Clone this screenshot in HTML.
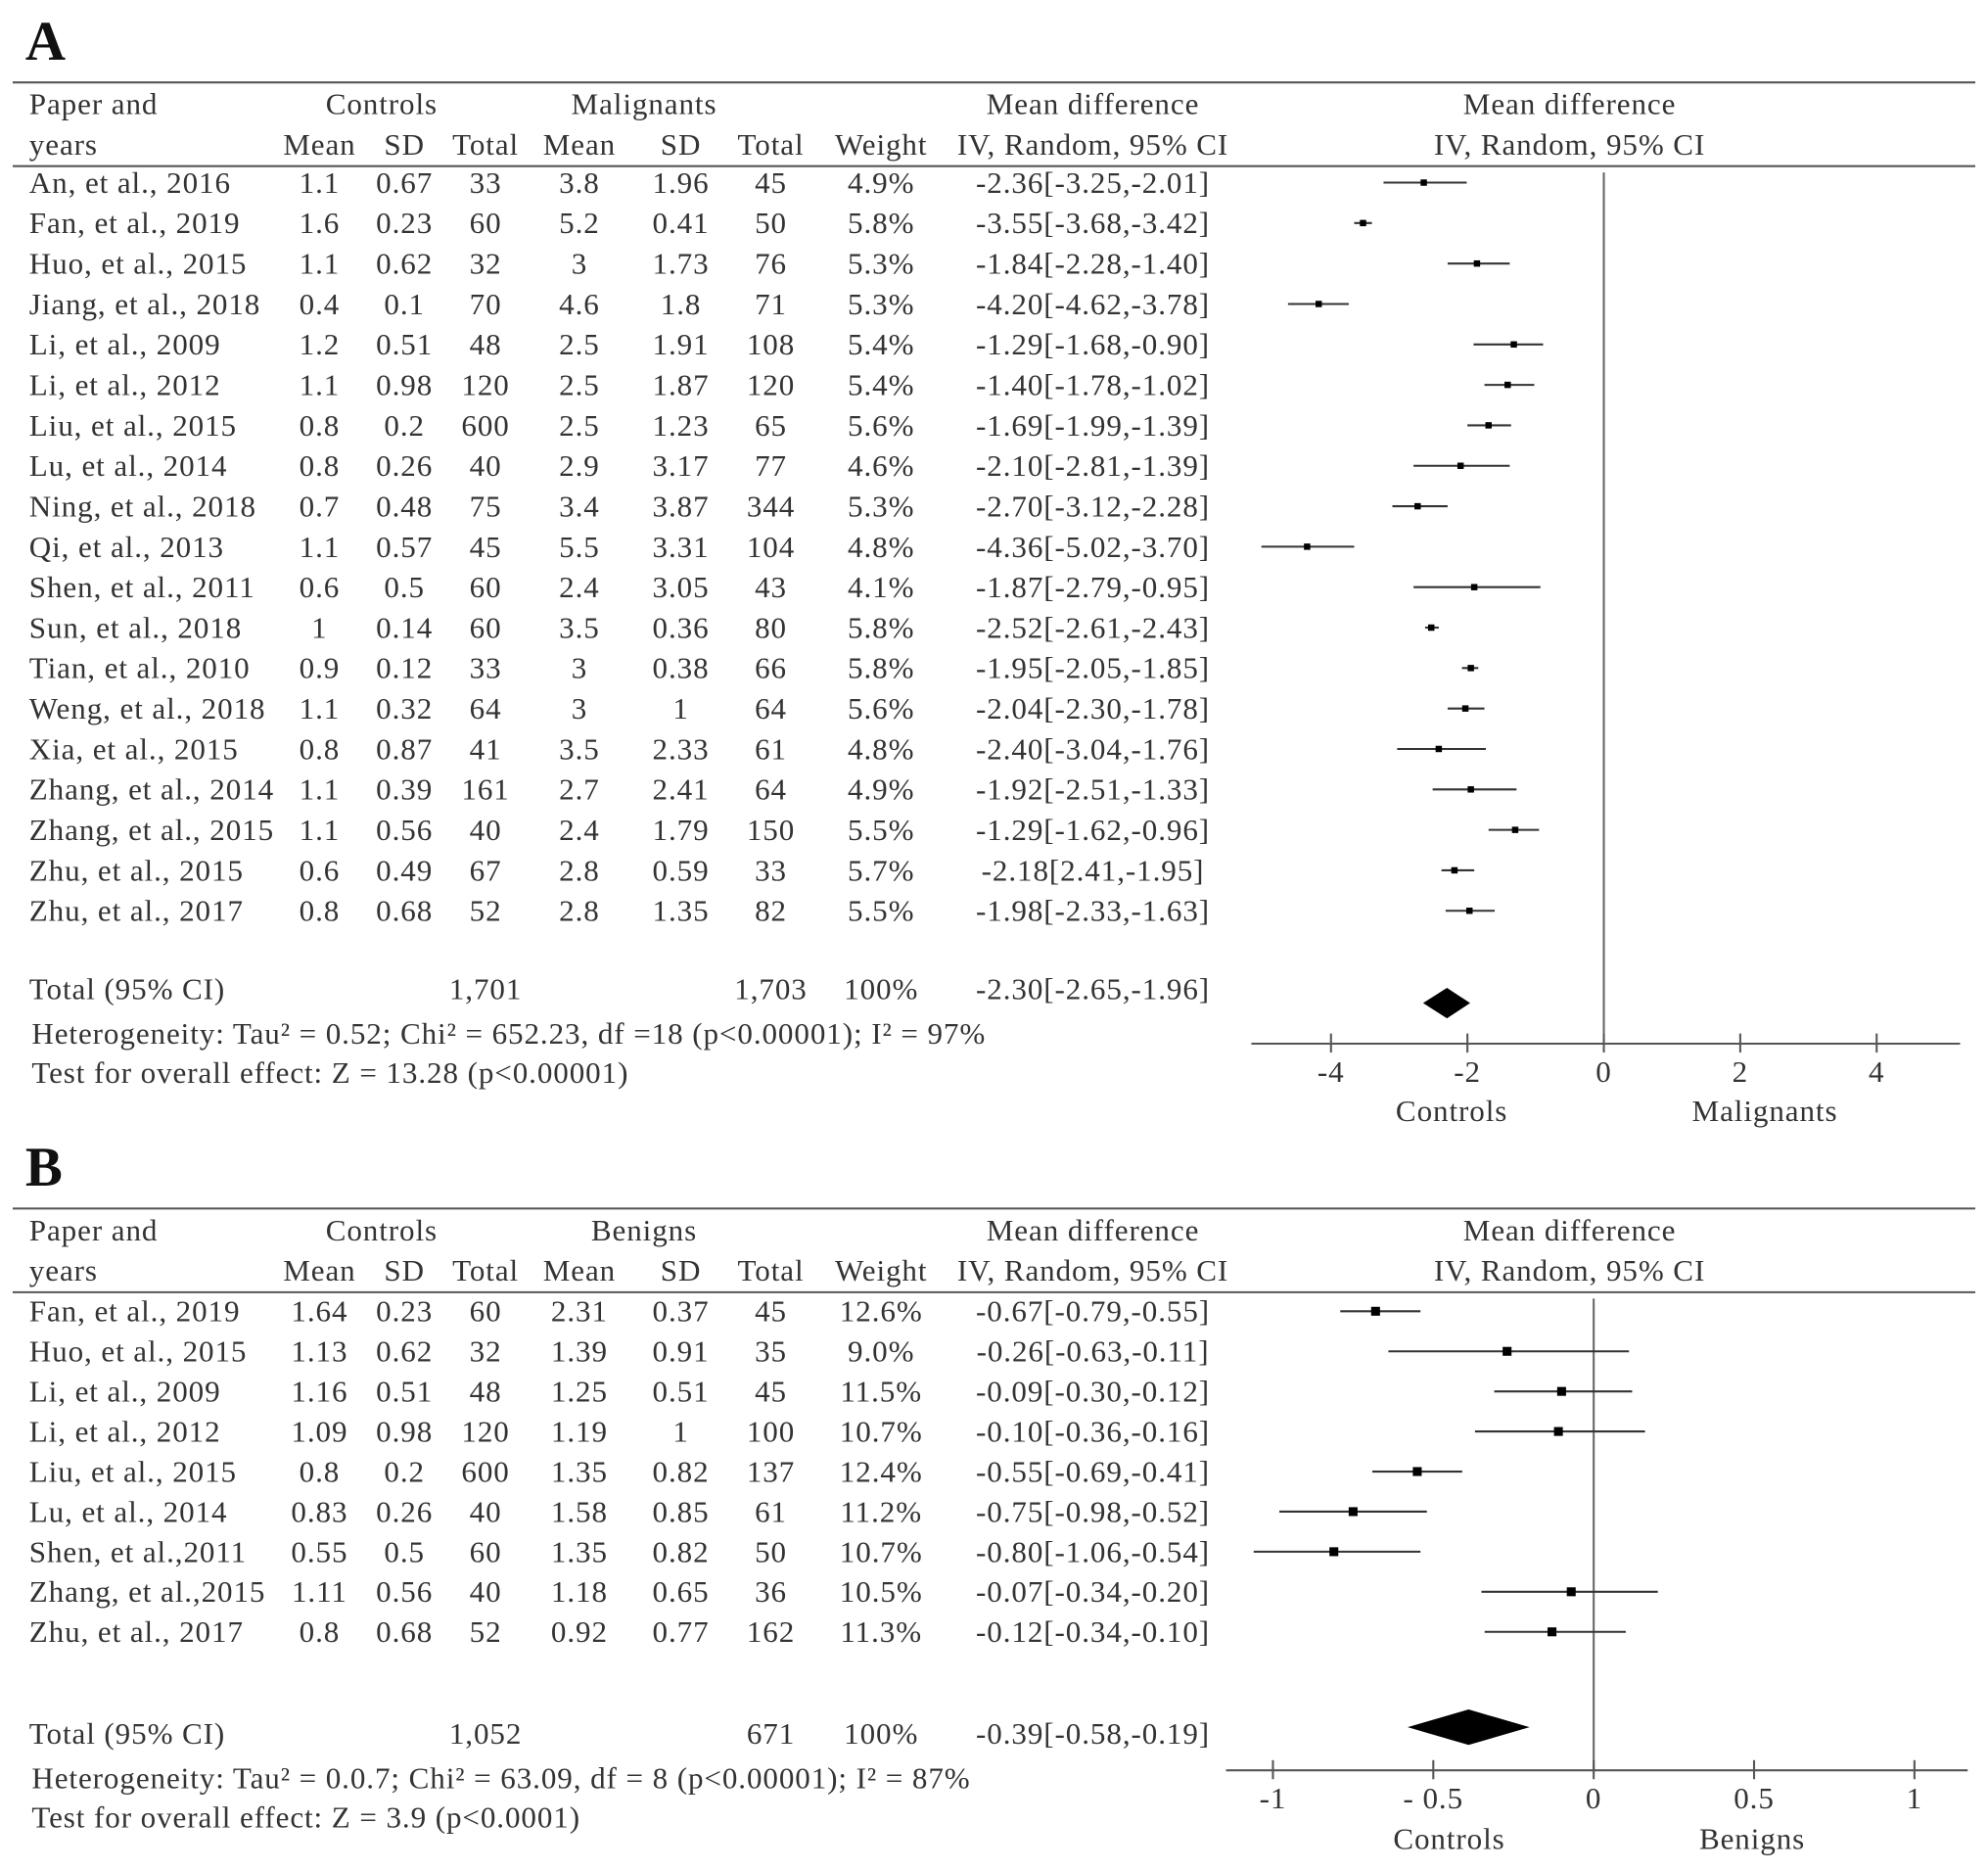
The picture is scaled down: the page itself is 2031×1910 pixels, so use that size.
<!DOCTYPE html>
<html><head><meta charset="utf-8"><style>
html,body{margin:0;padding:0;background:#fff;}
svg{display:block;}
text{font-family:"Liberation Serif",serif;fill:#333;letter-spacing:0.7px;}
</style></head><body>
<svg id="fig" width="2031" height="1910" viewBox="0 0 1568 1474.6" xmlns="http://www.w3.org/2000/svg"></svg>
<script>
// ---------- Panel A data ----------
const studiesA = ["An, et al., 2016","Fan, et al., 2019","Huo, et al., 2015","Jiang, et al., 2018","Li, et al., 2009","Li, et al., 2012","Liu, et al., 2015","Lu, et al., 2014","Ning, et al., 2018","Qi, et al., 2013","Shen, et al., 2011","Sun, et al., 2018","Tian, et al., 2010","Weng, et al., 2018","Xia, et al., 2015","Zhang, et al., 2014","Zhang, et al., 2015","Zhu, et al., 2015","Zhu, et al., 2017"];
const ctrlMeanA = ["1.1","1.6","1.1","0.4","1.2","1.1","0.8","0.8","0.7","1.1","0.6","1","0.9","1.1","0.8","1.1","1.1","0.6","0.8"];
const ctrlSdA = ["0.67","0.23","0.62","0.1","0.51","0.98","0.2","0.26","0.48","0.57","0.5","0.14","0.12","0.32","0.87","0.39","0.56","0.49","0.68"];
const ctrlTotA = ["33","60","32","70","48","120","600","40","75","45","60","60","33","64","41","161","40","67","52"];
const grpMeanA = ["3.8","5.2","3","4.6","2.5","2.5","2.5","2.9","3.4","5.5","2.4","3.5","3","3","3.5","2.7","2.4","2.8","2.8"];
const grpSdA = ["1.96","0.41","1.73","1.8","1.91","1.87","1.23","3.17","3.87","3.31","3.05","0.36","0.38","1","2.33","2.41","1.79","0.59","1.35"];
const grpTotA = ["45","50","76","71","108","120","65","77","344","104","43","80","66","64","61","64","150","33","82"];
const weightA = ["4.9%","5.8%","5.3%","5.3%","5.4%","5.4%","5.6%","4.6%","5.3%","4.8%","4.1%","5.8%","5.8%","5.6%","4.8%","4.9%","5.5%","5.7%","5.5%"];
const ciTextA = ["-2.36[-3.25,-2.01]","-3.55[-3.68,-3.42]","-1.84[-2.28,-1.40]","-4.20[-4.62,-3.78]","-1.29[-1.68,-0.90]","-1.40[-1.78,-1.02]","-1.69[-1.99,-1.39]","-2.10[-2.81,-1.39]","-2.70[-3.12,-2.28]","-4.36[-5.02,-3.70]","-1.87[-2.79,-0.95]","-2.52[-2.61,-2.43]","-1.95[-2.05,-1.85]","-2.04[-2.30,-1.78]","-2.40[-3.04,-1.76]","-1.92[-2.51,-1.33]","-1.29[-1.62,-0.96]","-2.18[2.41,-1.95]","-1.98[-2.33,-1.63]"];
const estA = [-2.64,-3.53,-1.86,-4.18,-1.32,-1.41,-1.69,-2.10,-2.73,-4.35,-1.90,-2.53,-1.95,-2.03,-2.42,-1.95,-1.30,-2.19,-1.97];
const loA = [-3.23,-3.66,-2.29,-4.63,-1.91,-1.75,-2.00,-2.79,-3.10,-5.02,-2.79,-2.62,-2.08,-2.29,-3.03,-2.51,-1.69,-2.38,-2.32];
const hiA = [-2.01,-3.40,-1.38,-3.74,-0.89,-1.02,-1.36,-1.38,-2.29,-3.66,-0.93,-2.42,-1.84,-1.75,-1.73,-1.28,-0.95,-1.90,-1.60];
const pooledA = [-2.30,-2.65,-1.96];
const ticksA = [-4,-2,0,2,4];
const totalsA = ["1,701","1,703","100%","-2.30[-2.65,-1.96]"];

// ---------- Panel B data ----------
const studiesB = ["Fan, et al., 2019","Huo, et al., 2015","Li, et al., 2009","Li, et al., 2012","Liu, et al., 2015","Lu, et al., 2014","Shen, et al.,2011","Zhang, et al.,2015","Zhu, et al., 2017"];
const ctrlMeanB = ["1.64","1.13","1.16","1.09","0.8","0.83","0.55","1.11","0.8"];
const ctrlSdB = ["0.23","0.62","0.51","0.98","0.2","0.26","0.5","0.56","0.68"];
const ctrlTotB = ["60","32","48","120","600","40","60","40","52"];
const grpMeanB = ["2.31","1.39","1.25","1.19","1.35","1.58","1.35","1.18","0.92"];
const grpSdB = ["0.37","0.91","0.51","1","0.82","0.85","0.82","0.65","0.77"];
const grpTotB = ["45","35","45","100","137","61","50","36","162"];
const weightB = ["12.6%","9.0%","11.5%","10.7%","12.4%","11.2%","10.7%","10.5%","11.3%"];
const ciTextB = ["-0.67[-0.79,-0.55]","-0.26[-0.63,-0.11]","-0.09[-0.30,-0.12]","-0.10[-0.36,-0.16]","-0.55[-0.69,-0.41]","-0.75[-0.98,-0.52]","-0.80[-1.06,-0.54]","-0.07[-0.34,-0.20]","-0.12[-0.34,-0.10]"];
const estB = [-0.68,-0.27,-0.10,-0.11,-0.55,-0.75,-0.81,-0.07,-0.13];
const loB = [-0.79,-0.64,-0.31,-0.37,-0.69,-0.98,-1.06,-0.35,-0.34];
const hiB = [-0.54,0.11,0.12,0.16,-0.41,-0.52,-0.54,0.20,0.10];
const pooledB = [-0.39,-0.58,-0.20];
const ticksB = [-1,-0.5,0,0.5,1];
const tickLabelsB = ["-1","- 0.5","0","0.5","1"];
const totalsB = ["1,052","671","100%","-0.39[-0.58,-0.19]"];

const NS="http://www.w3.org/2000/svg";
const svg=document.getElementById('fig');
function el(tag,attrs,txt){const e=document.createElementNS(NS,tag);for(const k in attrs)e.setAttribute(k,attrs[k]);if(txt!==undefined)e.textContent=txt;svg.appendChild(e);return e;}
function T(x,y,s,anchor,size,name){const e=el('text',{x:x,y:y,'text-anchor':anchor||'start','font-size':size||24},s);

return e;}
function L(x1,y1,x2,y2,w,name,col){const e=el('line',{x1:x1,y1:y1,x2:x2,y2:y2,stroke:col||'#444','stroke-width':w||1.5});

return e;}

const cols=[252,319,383,457,537,608,695,862];
const FS=24;

function panel(o){
  const pl=T(20,o.top+37,o.letter,'start',44,'panel-label');pl.setAttribute('font-weight','bold');pl.setAttribute('style','letter-spacing:0;fill:#111');
  L(10,o.top+55,1558,o.top+55,1.6,'header-top-rule','#555');
  const h1=o.top+80,h2=o.top+112;
  T(23,h1,'Paper and','start',FS,'header-paper');
  T(23,h2,'years','start',FS,'header-years');
  T(301,h1,'Controls','middle',FS,'header-controls');
  T(508,h1,o.group,'middle',FS,'header-group');
  const hd=['Mean','SD','Total','Mean','SD','Total','Weight','IV, Random, 95% CI'];
  hd.forEach((h,i)=>T(cols[i],h2,h,'middle',FS,'header-col'));
  T(862,h1,'Mean difference','middle',FS,'header-md');
  T(1238,h1,'Mean difference','middle',FS,'header-md-plot');
  T(1238,h2,'IV, Random, 95% CI','middle',FS,'header-md-plot-sub');
  L(10,o.top+121,1558,o.top+121,1.6,'header-bottom-rule','#555');
  const sx=v=>o.zero+v*o.unit;
  L(sx(0),o.top+126,sx(0),o.axisY,1.6,'zero-line','#666');
  o.studies.forEach((s,i)=>{
    const y=o.row0+i*o.step;
    const ty=y+8;
    T(23,ty,s,'start',FS,'study-name');
    [o.cm,o.cs,o.ct,o.gm,o.gs,o.gt,o.w,o.ci].forEach((arr,j)=>T(cols[j],ty,arr[i],'middle',FS,'study-value'));
    L(sx(o.lo[i]),y,sx(o.hi[i]),y,1.6,'ci-line','#333');
    const r=el('rect',{x:sx(o.est[i])-o.ms/2,y:y-o.ms/2,width:o.ms,height:o.ms,fill:'#000'});
    
    
  });
  const ty=o.totY+8;
  T(23,ty,'Total (95% CI)','start',FS,'total-label');
  T(383,ty,o.totals[0],'middle',FS,'total-controls');
  T(608,ty,o.totals[1],'middle',FS,'total-group');
  T(695,ty,o.totals[2],'middle',FS,'total-weight');
  T(862,ty,o.totals[3],'middle',FS,'total-ci');
  const [pe,plo,phi]=o.pooled, dy=o.dy, dh=o.dh;
  const d=el('polygon',{points:`${sx(plo)},${dy} ${sx(pe)},${dy-dh} ${sx(phi)},${dy} ${sx(pe)},${dy+dh}`,fill:'#000'});
  
  
  T(25,o.hetY,o.het,'start',FS,'heterogeneity-text');
  T(25,o.testY,o.test,'start',FS,'overall-effect-text');
  L(o.axL,o.axisY,o.axR,o.axisY,1.6,'x-axis','#555');
  o.ticks.forEach((t,i)=>{L(sx(t),o.axisY-8,sx(t),o.axisY+7,1.6,'x-tick','#555');
    T(sx(t),o.axisY+30,o.tickLabels[i],'middle',FS,'x-tick-label');});
  T(o.leftLabX,o.labY,'Controls','middle',FS,'favours-controls');
  T(o.rightLabX,o.labY,o.group,'middle',FS,'favours-group');
}

panel({letter:'A',top:10,group:'Malignants',studies:studiesA,cm:ctrlMeanA,cs:ctrlSdA,ct:ctrlTotA,gm:grpMeanA,gs:grpSdA,gt:grpTotA,w:weightA,ci:ciTextA,
  est:estA,lo:loA,hi:hiA,pooled:pooledA,totals:totalsA,ticks:ticksA,tickLabels:ticksA.map(String),
  zero:1265,unit:53.8,row0:144,step:31.9,ms:5,totY:780,dy:791,dh:12,axisY:823,axL:987,axR:1546,
  het:'Heterogeneity: Tau² = 0.52; Chi² = 652.23, df =18 (p<0.00001); I² = 97%',hetY:823,
  test:'Test for overall effect: Z = 13.28 (p<0.00001)',testY:854,leftLabX:1145,rightLabX:1392,labY:884});

panel({letter:'B',top:898,group:'Benigns',studies:studiesB,cm:ctrlMeanB,cs:ctrlSdB,ct:ctrlTotB,gm:grpMeanB,gs:grpSdB,gt:grpTotB,w:weightB,ci:ciTextB,
  est:estB,lo:loB,hi:hiB,pooled:pooledB,totals:totalsB,ticks:ticksB,tickLabels:tickLabelsB,
  zero:1257,unit:253,row0:1034,step:31.6,ms:7,totY:1367,dy:1362,dh:14,axisY:1396,axL:967,axR:1552,
  het:'Heterogeneity: Tau² = 0.0.7; Chi² = 63.09, df = 8 (p<0.00001); I² = 87%',hetY:1410,
  test:'Test for overall effect: Z = 3.9 (p<0.0001)',testY:1441,leftLabX:1143,rightLabX:1382,labY:1458});
</script>
</body></html>
